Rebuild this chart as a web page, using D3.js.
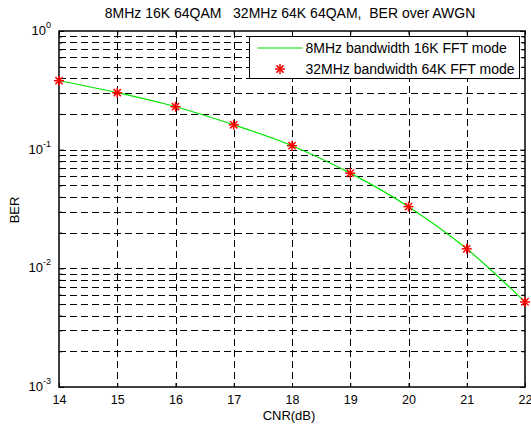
<!DOCTYPE html>
<html>
<head>
<meta charset="utf-8">
<script src="https://cdn.jsdelivr.net/npm/d3@7"></script>
<style>
  body { margin: 0; background: #fff; }
  text { font-family: Arial, "Liberation Sans", sans-serif; fill: #000; }
</style>
</head>
<body>
<div id="chart"></div>
<script>
// data
var cnr = [14, 15, 16, 17, 18, 19, 20, 21, 22];
var berFFT16K = [0.381, 0.302, 0.230, 0.162, 0.108, 0.0634, 0.0331, 0.0146, 0.00521];
var berFFT64K = [0.381, 0.302, 0.230, 0.162, 0.108, 0.0634, 0.0331, 0.0146, 0.00521];
var xTicks = [14, 15, 16, 17, 18, 19, 20, 21, 22];
var yDecades = [0, -1, -2, -3];
var seriesNames = ["8MHz bandwidth 16K FFT mode", "32MHz bandwidth 64K FFT mode"];
var titleText = "8MHz 16K 64QAM   32MHz 64K 64QAM,  BER over AWGN";

var svgWidth = 531, svgHeight = 425;
var margin = {top: 31, right: 6, bottom: 38, left: 59};
var width = svgWidth - margin.left - margin.right;
var height = svgHeight - margin.top - margin.bottom;

var svg = d3.select("#chart").append("svg")
  .attr("width", svgWidth)
  .attr("height", svgHeight);

var chartGroup = svg.append("g")
  .attr("transform", `translate(${margin.left}, ${margin.top})`);

// scales
var xScale = d3.scaleLinear().domain([14, 22]).range([0, width]);
var yScale = d3.scaleLog().domain([1e-3, 1]).range([height, 0]);

// minor values for the log axis
var yMinor = [];
[-3, -2, -1].forEach(function(e) {
  for (var k = 2; k <= 9; k++) yMinor.push(k * Math.pow(10, e));
});
var yMajor = yDecades.map(d => Math.pow(10, d));

// grid
var grid = chartGroup.append("g")
  .attr("stroke", "#000")
  .attr("stroke-width", 1)
  .attr("stroke-dasharray", "7,4")
  .attr("shape-rendering", "crispEdges");

grid.selectAll(".hg")
  .data(yMajor.concat(yMinor).filter(d => d > 1e-3 && d < 1))
  .enter().append("line")
  .attr("x1", 0).attr("x2", width)
  .attr("y1", d => Math.round(yScale(d)) + 0.5)
  .attr("y2", d => Math.round(yScale(d)) + 0.5);

grid.selectAll(".vg")
  .data(xTicks.filter(d => d > 14 && d < 22))
  .enter().append("line")
  .attr("y1", 0).attr("y2", height)
  .attr("x1", d => Math.round(xScale(d)) + 0.5)
  .attr("x2", d => Math.round(xScale(d)) + 0.5);

// axes with inward ticks
var bottomAxis = d3.axisBottom(xScale).tickValues(xTicks).tickSizeInner(-4).tickSizeOuter(0).tickPadding(8).tickFormat(d3.format("d"));
var topAxis = d3.axisTop(xScale).tickValues(xTicks).tickSizeInner(-4).tickSizeOuter(0).tickFormat("");
var leftMajor = d3.axisLeft(yScale).tickValues(yMajor).tickSizeInner(-5).tickSizeOuter(0).tickFormat("");
var leftMinor = d3.axisLeft(yScale).tickValues(yMinor).tickSizeInner(-3).tickSizeOuter(0).tickFormat("");
var rightMajor = d3.axisRight(yScale).tickValues(yMajor).tickSizeInner(-5).tickSizeOuter(0).tickFormat("");
var rightMinor = d3.axisRight(yScale).tickValues(yMinor).tickSizeInner(-3).tickSizeOuter(0).tickFormat("");

var xAxis = chartGroup.append("g")
  .attr("transform", `translate(0, ${height})`)
  .call(bottomAxis);
xAxis.selectAll("text").style("font-size", "12.5px");

chartGroup.append("g").call(topAxis);
chartGroup.append("g").call(leftMajor);
chartGroup.append("g").call(leftMinor);
chartGroup.append("g").attr("transform", `translate(${width}, 0)`).call(rightMajor);
chartGroup.append("g").attr("transform", `translate(${width}, 0)`).call(rightMinor);
chartGroup.selectAll(".domain").remove();
chartGroup.selectAll(".tick line").attr("stroke", "#000");

// y tick labels 10^n
var yLabels = chartGroup.append("g").selectAll("text")
  .data(yDecades)
  .enter().append("text")
  .attr("x", -8)
  .attr("y", d => yScale(Math.pow(10, d)) + 4)
  .attr("text-anchor", "end")
  .style("font-size", "13px");
yLabels.append("tspan").text("10");
yLabels.append("tspan")
  .attr("dy", -7)
  .style("font-size", "9px")
  .text(d => d);

// frame
chartGroup.append("rect")
  .attr("x", 0).attr("y", 0)
  .attr("width", width).attr("height", height)
  .attr("fill", "none")
  .attr("stroke", "#000")
  .attr("stroke-width", 1.5);

// curve
var lineGen = d3.line()
  .x((d, i) => xScale(cnr[i]))
  .y(d => yScale(d))
  .curve(d3.curveMonotoneX);

chartGroup.append("path")
  .datum(berFFT16K)
  .attr("d", lineGen)
  .attr("fill", "none")
  .attr("stroke", "#00e600")
  .attr("stroke-width", 1.2);

// asterisk markers
function star(g, size) {
  var s = size / 2, t = s * 0.72;
  g.append("line").attr("x1", -s).attr("x2", s).attr("y1", 0).attr("y2", 0);
  g.append("line").attr("x1", 0).attr("x2", 0).attr("y1", -s).attr("y2", s);
  g.append("line").attr("x1", -t).attr("x2", t).attr("y1", -t).attr("y2", t);
  g.append("line").attr("x1", -t).attr("x2", t).attr("y1", t).attr("y2", -t);
}

var markers = chartGroup.append("g")
  .attr("stroke", "#ff0000")
  .attr("stroke-width", 1.5)
  .selectAll("g")
  .data(berFFT64K)
  .enter().append("g")
  .attr("transform", (d, i) => `translate(${xScale(cnr[i])}, ${yScale(d)})`);
markers.each(function() { star(d3.select(this), 10); });

// legend
var legend = svg.append("g").attr("transform", "translate(249.5, 36.5)");
legend.append("rect")
  .attr("width", 270).attr("height", 42)
  .attr("fill", "#fff")
  .attr("stroke", "#000")
  .attr("stroke-width", 1);
legend.append("line")
  .attr("x1", 8).attr("x2", 53).attr("y1", 11.5).attr("y2", 11.5)
  .attr("stroke", "#00e600").attr("stroke-width", 1.2);
var legendStar = legend.append("g")
  .attr("transform", "translate(30.5, 32.5)")
  .attr("stroke", "#ff0000").attr("stroke-width", 1.5);
star(legendStar, 10);
legend.selectAll(".lt")
  .data(seriesNames)
  .enter().append("text")
  .attr("x", 56)
  .attr("y", (d, i) => 16 + i * 21)
  .style("font-size", "14px")
  .text(d => d);

// title and axis labels
svg.append("text")
  .attr("x", 290)
  .attr("y", 18)
  .attr("text-anchor", "middle")
  .style("font-size", "14px")
  .style("white-space", "pre")
  .text(titleText);

svg.append("text")
  .attr("x", 289)
  .attr("y", 420)
  .attr("text-anchor", "middle")
  .style("font-size", "13px")
  .text("CNR(dB)");

svg.append("text")
  .attr("transform", "translate(19, 210) rotate(-90)")
  .attr("text-anchor", "middle")
  .style("font-size", "13px")
  .text("BER");
</script>
</body>
</html>
